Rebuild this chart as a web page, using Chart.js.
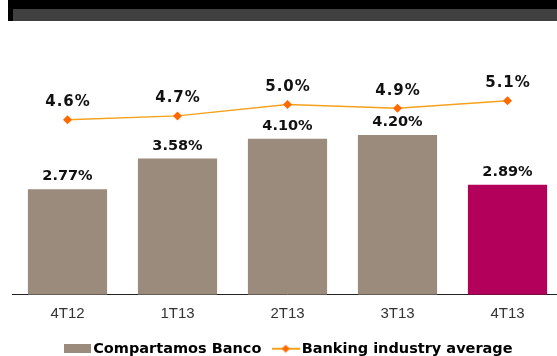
<!DOCTYPE html>
<html>
<head>
<meta charset="utf-8">
<script src="https://cdn.jsdelivr.net/npm/chart.js@4/dist/chart.umd.min.js"></script>
<style>
  html, body { margin: 0; padding: 0; background: #fff; overflow: hidden; width: 557px; height: 356px; }
  #wrap { position: relative; width: 557px; height: 356px; overflow: hidden; }
  #chart { position: absolute; left: 0; top: 0; }
  .hdr { position: absolute; left: 8px; top: 0; width: 549px; height: 21px; background: #000; z-index: 2; }
  .hdr-in { position: absolute; left: 5px; top: 9px; right: 0; bottom: 0; background: #404040; }
</style>
</head>
<body>
<div id="wrap">
  <div class="hdr"><div class="hdr-in"></div></div>
  <canvas id="chart" width="576" height="366"></canvas>
</div>
<script>
// Quarterly series
const categories = ['4T12', '1T13', '2T13', '3T13', '4T13'];
const bancoValues = [2.77, 3.58, 4.10, 4.20, 2.89];
const industryValues = [4.6, 4.7, 5.0, 4.9, 5.1];
const seriesNames = ['Compartamos Banco', 'Banking industry average'];

const BAR_COLOR = '#9B8B7D';
const BAR_HIGHLIGHT = '#B3005B';
const LINE_COLOR = '#F5A11C';
const POINT_COLOR = '#FF6A00';

const barColors = bancoValues.map((v, i) => i === bancoValues.length - 1 ? BAR_HIGHLIGHT : BAR_COLOR);

// Legend icons
function makeBoxIcon() {
  const c = document.createElement('canvas');
  c.width = 27; c.height = 9;
  const g = c.getContext('2d');
  g.fillStyle = BAR_COLOR;
  g.fillRect(0, 0, 27, 9);
  return c;
}
function makeLineIcon() {
  const c = document.createElement('canvas');
  c.width = 28; c.height = 10;
  const g = c.getContext('2d');
  g.strokeStyle = LINE_COLOR;
  g.lineWidth = 2;
  g.beginPath(); g.moveTo(0, 5); g.lineTo(28, 5); g.stroke();
  g.fillStyle = POINT_COLOR;
  g.beginPath(); g.moveTo(14, 1); g.lineTo(18, 5); g.lineTo(14, 9); g.lineTo(10, 5); g.closePath(); g.fill();
  return c;
}

// Value labels above bars and line points
const valueLabels = {
  id: 'valueLabels',
  afterDatasetsDraw(chart) {
    const ctx = chart.ctx;
    ctx.save();
    ctx.textAlign = 'center';
    ctx.textBaseline = 'middle';
    ctx.fillStyle = '#111';
    chart.data.datasets.forEach((ds, di) => {
      const meta = chart.getDatasetMeta(di);
      meta.data.forEach((el, i) => {
        const v = ds.data[i];
        if (ds.type === 'line') {
          ctx.font = 'bold 15px "DejaVu Sans"';
          ctx.letterSpacing = '1px';
          ctx.fillText(v.toFixed(1) + '%', el.x + 0.5, el.y - 17.5);
        } else {
          ctx.font = 'bold 14.5px "DejaVu Sans"';
          ctx.letterSpacing = '0px';
          ctx.fillText(v.toFixed(2) + '%', el.x, el.y - 12.6);
        }
      });
    });
    ctx.restore();
  }
};

new Chart(document.getElementById('chart'), {
  data: {
    labels: categories,
    datasets: [
      {
        type: 'line',
        label: seriesNames[1],
        data: industryValues,
        borderColor: LINE_COLOR,
        borderWidth: 1.5,
        pointStyle: 'rectRot',
        pointRadius: 4.5,
        pointBackgroundColor: POINT_COLOR,
        pointBorderColor: POINT_COLOR,
        pointBorderWidth: 0,
        tension: 0,
        order: 0
      },
      {
        type: 'bar',
        label: seriesNames[0],
        data: bancoValues,
        backgroundColor: barColors,
        barPercentage: 0.72,
        categoryPercentage: 1,
        order: 1
      }
    ]
  },
  options: {
    responsive: false,
    animation: false,
    devicePixelRatio: 1,
    layout: { padding: { left: 12.5, right: 7.5, top: 66.4, bottom: 0 } },
    scales: {
      x: {
        grid: { display: false, drawTicks: false },
        border: { display: true, color: '#222', width: 1 },
        ticks: { color: '#333', font: { family: '"Liberation Sans"', size: 15 }, padding: 10 },
        afterFit(scale) { scale.height = 31.25; }
      },
      y: {
        position: 'right',
        min: 0,
        max: 6,
        grid: { display: false, drawTicks: false },
        border: { display: false },
        ticks: { display: false },
        afterFit(scale) { scale.width = 6; }
      }
    },
    plugins: {
      tooltip: { enabled: false },
      legend: {
        position: 'bottom',
        labels: {
          usePointStyle: true,
          pointStyleWidth: 17.5,
          padding: 15.5,
          color: '#111',
          font: { family: '"DejaVu Sans"', size: 14.5, weight: 'bold' },
          generateLabels() {
            return [
              { text: seriesNames[0], pointStyle: makeBoxIcon(), fillStyle: BAR_COLOR, strokeStyle: BAR_COLOR, lineWidth: 0, hidden: false, datasetIndex: 1 },
              { text: seriesNames[1], pointStyle: makeLineIcon(), fillStyle: POINT_COLOR, strokeStyle: LINE_COLOR, lineWidth: 0, hidden: false, datasetIndex: 0 }
            ];
          }
        }
      }
    }
  },
  plugins: [valueLabels]
});
</script>
</body>
</html>
